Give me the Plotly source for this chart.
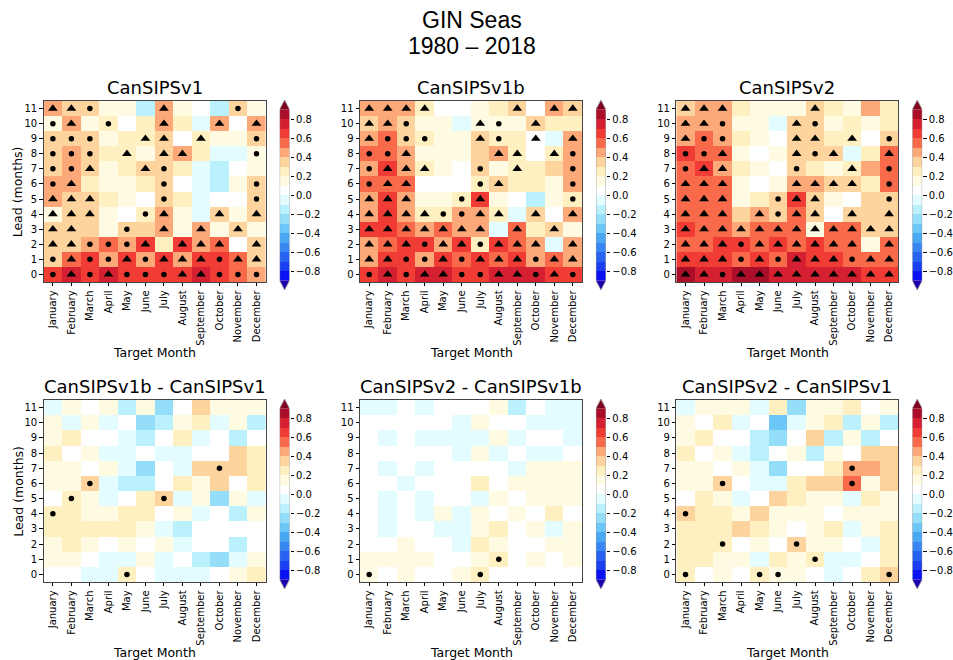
import plotly.graph_objects as go

# ---------------- data ----------------
MONTHS = ["January", "February", "March", "April", "May", "June", "July",
          "August", "September", "October", "November", "December"]
LEADS = list(range(12))
TITLES = ["CanSIPSv1", "CanSIPSv1b", "CanSIPSv2",
          "CanSIPSv1b - CanSIPSv1", "CanSIPSv2 - CanSIPSv1b", "CanSIPSv2 - CanSIPSv1"]
CB_TICKS = [0.8, 0.6, 0.4, 0.2, 0.0, -0.2, -0.4, -0.6, -0.8]
CB_TICKTEXT = ["0.8", "0.6", "0.4", "0.2", "0.0", "\u22120.2", "\u22120.4", "\u22120.6", "\u22120.8"]
LEVEL_MIN, LEVEL_MAX, LEVEL_STEP = -0.9, 0.9, 0.1
# band colours from below -0.9 (extension) to above 0.9 (extension)
BAND_COLORS = ["#1c00b0", "#0a12f2", "#1a3ef0", "#2862f0", "#3886f2", "#48a8f4",
               "#6cc6f7", "#94def9", "#bbf1fc", "#e2fcff",
               "#ffffff", "#fffbe3", "#fff0c2", "#fdd49e", "#fca878", "#f86a4a",
               "#f03c34", "#d42030", "#aa0e28", "#800020"]

# values: rows are lead 0 .. 11, columns January .. December
v1 = [
    [0.65, 0.75, 0.65, 0.75, 0.65, 0.65, 0.65, 0.65, 0.75, 0.65, 0.55, 0.45],
    [0.35, 0.55, 0.65, 0.45, 0.65, 0.45, 0.65, 0.45, 0.65, 0.65, 0.55, 0.35],
    [0.35, 0.35, 0.45, 0.55, 0.45, 0.65, 0.25, 0.65, 0.45, 0.55, 0.05, 0.35],
    [0.35, 0.35, 0.35, 0.15, 0.35, 0.35, 0.45, 0.15, 0.45, 0.15, 0.35, 0.15],
    [0.15, 0.35, 0.35, 0.15, 0.05, 0.25, 0.45, 0.15, -0.05, 0.35, 0.15, 0.35],
    [0.45, 0.35, 0.35, 0.25, 0.15, 0.05, 0.35, 0.25, -0.05, 0.05, 0.05, 0.35],
    [0.45, 0.45, 0.25, 0.15, 0.15, 0.25, 0.35, 0.05, -0.05, -0.15, 0.15, 0.35],
    [0.35, 0.45, 0.35, 0.15, 0.25, 0.35, 0.35, 0.25, -0.05, -0.15, 0.05, 0.15],
    [0.35, 0.45, 0.35, 0.25, 0.25, 0.15, 0.35, 0.45, 0.25, -0.05, -0.05, 0.15],
    [0.35, 0.35, 0.35, 0.15, 0.25, 0.25, 0.35, 0.05, 0.25, 0.15, 0.15, 0.35],
    [0.15, 0.45, 0.15, 0.25, 0.05, 0.25, 0.45, 0.25, -0.05, 0.45, 0.05, 0.45],
    [0.45, 0.35, 0.35, 0.15, 0.15, -0.15, 0.45, 0.15, 0.05, -0.15, 0.35, 0.15],
]
v1b = [
    [0.65, 0.75, 0.65, 0.75, 0.75, 0.65, 0.65, 0.75, 0.75, 0.75, 0.65, 0.65],
    [0.45, 0.65, 0.65, 0.45, 0.65, 0.55, 0.65, 0.55, 0.65, 0.45, 0.55, 0.45],
    [0.45, 0.55, 0.65, 0.65, 0.45, 0.65, 0.25, 0.65, 0.55, 0.45, -0.05, 0.45],
    [0.65, 0.65, 0.55, 0.45, 0.55, 0.45, 0.45, -0.05, 0.55, 0.25, 0.35, 0.15],
    [0.45, 0.65, 0.45, 0.25, 0.25, 0.45, 0.45, 0.25, -0.05, 0.35, 0.05, 0.45],
    [0.45, 0.65, 0.45, 0.15, 0.15, 0.25, 0.65, 0.15, 0.05, -0.15, 0.15, 0.25],
    [0.55, 0.55, 0.55, 0.05, 0.05, 0.05, 0.25, 0.35, 0.25, 0.25, 0.15, 0.45],
    [0.45, 0.65, 0.45, 0.25, 0.15, 0.05, 0.35, 0.15, 0.25, 0.25, 0.35, 0.45],
    [0.55, 0.55, 0.45, 0.15, 0.15, 0.15, 0.35, 0.45, 0.25, 0.05, 0.25, 0.45],
    [0.45, 0.55, 0.35, 0.25, 0.15, 0.15, 0.35, 0.25, 0.25, 0.05, -0.05, 0.45],
    [0.35, 0.45, 0.35, 0.15, 0.15, -0.05, 0.15, 0.15, 0.15, 0.35, 0.25, 0.25],
    [0.45, 0.45, 0.45, 0.25, 0.05, 0.05, 0.15, 0.25, 0.35, 0.05, 0.45, 0.35],
]
v2 = [
    [0.85, 0.75, 0.75, 0.85, 0.85, 0.75, 0.75, 0.75, 0.75, 0.75, 0.65, 0.65],
    [0.65, 0.65, 0.65, 0.55, 0.65, 0.55, 0.75, 0.65, 0.65, 0.55, 0.55, 0.55],
    [0.55, 0.55, 0.65, 0.65, 0.55, 0.65, 0.55, 0.65, 0.55, 0.55, 0.15, 0.55],
    [0.65, 0.55, 0.55, 0.45, 0.55, 0.55, 0.55, 0.15, 0.55, 0.55, 0.35, 0.35],
    [0.55, 0.55, 0.55, 0.35, 0.45, 0.35, 0.55, 0.35, 0.05, 0.35, 0.35, 0.35],
    [0.55, 0.55, 0.55, 0.15, 0.25, 0.35, 0.65, 0.35, 0.15, 0.05, 0.35, 0.35],
    [0.55, 0.55, 0.55, 0.15, 0.05, 0.15, 0.45, 0.45, 0.35, 0.35, 0.25, 0.55],
    [0.55, 0.65, 0.45, 0.25, 0.15, 0.05, 0.35, 0.25, 0.15, 0.25, 0.45, 0.55],
    [0.65, 0.55, 0.55, 0.15, 0.05, 0.15, 0.35, 0.35, 0.35, -0.05, 0.25, 0.55],
    [0.45, 0.55, 0.45, 0.25, 0.15, 0.05, 0.35, 0.35, 0.25, 0.25, 0.05, 0.35],
    [0.45, 0.45, 0.45, 0.15, 0.15, -0.05, 0.35, 0.35, 0.15, 0.25, 0.15, 0.25],
    [0.35, 0.45, 0.45, 0.25, 0.15, 0.15, 0.15, 0.35, 0.25, 0.15, 0.45, 0.25],
]
d_v1b_v1 = [
    [0.05, 0.05, -0.05, -0.05, 0.25, 0.05, -0.05, -0.05, -0.05, 0.05, 0.15, 0.25],
    [0.15, 0.15, 0.05, -0.05, -0.05, 0.15, -0.05, 0.05, -0.15, -0.25, -0.05, 0.15],
    [0.15, 0.25, 0.15, 0.05, 0.15, 0.05, 0.15, -0.05, 0.05, 0.05, -0.15, 0.05],
    [0.25, 0.25, 0.25, 0.25, 0.25, 0.15, -0.05, -0.15, 0.05, 0.05, 0.05, 0.05],
    [0.25, 0.25, 0.15, 0.15, 0.25, 0.25, 0.05, 0.15, -0.05, 0.05, -0.15, 0.15],
    [0.05, 0.25, 0.15, -0.05, 0.05, 0.25, 0.35, -0.05, 0.15, -0.25, 0.15, -0.05],
    [0.15, 0.15, 0.35, -0.05, -0.15, -0.15, 0.05, 0.25, 0.15, 0.35, 0.05, 0.25],
    [0.15, 0.15, 0.05, 0.15, -0.05, -0.25, 0.05, -0.05, 0.35, 0.35, 0.35, 0.25],
    [0.25, 0.05, 0.15, -0.05, -0.05, 0.05, -0.05, -0.05, 0.05, 0.05, 0.35, 0.25],
    [0.15, 0.25, 0.05, 0.05, -0.05, -0.15, 0.05, 0.25, -0.05, 0.05, -0.15, 0.05],
    [0.15, -0.05, 0.15, -0.05, 0.05, -0.25, -0.15, 0.15, 0.25, -0.05, 0.15, -0.15],
    [-0.05, 0.15, 0.05, 0.15, -0.15, 0.15, -0.25, 0.05, 0.35, 0.15, 0.15, 0.15],
]
d_v2_v1b = [
    [0.15, 0.05, 0.15, 0.05, 0.05, 0.15, 0.25, 0.05, 0.05, 0.05, 0.05, 0.05],
    [0.15, 0.15, 0.15, 0.15, 0.05, 0.05, 0.15, 0.25, 0.05, 0.15, 0.05, 0.15],
    [0.05, 0.05, 0.15, 0.05, 0.05, -0.05, 0.25, 0.15, 0.05, 0.05, 0.15, 0.15],
    [0.05, -0.05, 0.05, 0.05, -0.05, -0.05, 0.15, 0.25, 0.05, 0.15, -0.05, 0.15],
    [0.05, -0.05, 0.05, -0.05, 0.15, -0.05, 0.15, 0.05, 0.15, 0.05, 0.25, 0.05],
    [0.05, -0.05, 0.05, -0.05, 0.05, 0.05, -0.05, 0.15, 0.05, 0.15, 0.15, 0.15],
    [0.05, 0.05, -0.05, 0.05, 0.05, 0.05, 0.25, 0.05, 0.15, 0.15, 0.15, 0.15],
    [0.05, -0.05, 0.05, -0.05, 0.05, 0.05, 0.05, 0.05, -0.05, 0.15, 0.15, 0.15],
    [0.05, 0.05, 0.05, 0.05, 0.05, -0.05, 0.15, -0.05, 0.05, -0.05, -0.05, 0.05],
    [0.05, -0.05, 0.05, -0.05, -0.05, -0.05, -0.05, 0.15, -0.05, 0.05, 0.05, -0.05],
    [0.05, 0.05, 0.05, 0.05, 0.05, -0.05, 0.15, 0.05, 0.05, -0.05, -0.05, -0.05],
    [-0.05, -0.05, 0.05, -0.05, 0.05, 0.05, 0.05, 0.15, -0.15, 0.05, -0.05, -0.05],
]
d_v2_v1 = [
    [0.25, 0.05, 0.15, 0.05, 0.25, 0.15, 0.15, 0.05, -0.05, 0.05, 0.25, 0.35],
    [0.25, 0.25, 0.15, 0.15, -0.05, 0.25, 0.15, 0.25, -0.05, -0.05, 0.05, 0.25],
    [0.25, 0.25, 0.25, 0.05, 0.15, 0.05, 0.35, 0.15, 0.15, 0.05, -0.05, 0.25],
    [0.25, 0.25, 0.25, 0.35, 0.25, 0.15, 0.05, 0.15, 0.25, -0.05, 0.15, 0.25],
    [0.35, 0.25, 0.25, 0.15, 0.35, 0.15, 0.15, 0.15, 0.05, 0.15, 0.15, 0.15],
    [0.05, 0.25, 0.15, -0.05, 0.05, 0.35, 0.25, 0.15, 0.15, -0.05, 0.25, 0.15],
    [0.15, 0.15, 0.35, 0.05, -0.05, -0.05, 0.25, 0.35, 0.35, 0.55, 0.15, 0.35],
    [0.15, 0.15, 0.05, 0.15, -0.05, -0.25, 0.05, 0.05, 0.25, 0.45, 0.45, 0.35],
    [0.25, 0.05, 0.15, -0.05, -0.15, 0.05, 0.15, -0.15, 0.15, 0.05, 0.35, 0.35],
    [0.15, 0.25, 0.05, 0.05, -0.15, -0.25, 0.05, 0.35, -0.15, 0.15, -0.15, 0.05],
    [0.15, 0.05, 0.25, -0.05, 0.05, -0.35, -0.05, 0.15, 0.25, -0.15, 0.15, -0.15],
    [-0.05, 0.15, 0.15, 0.15, -0.05, 0.25, -0.25, 0.15, 0.15, 0.25, 0.05, 0.15],
]

# significance markers: 'T' = triangle, 'o' = dot, '.' = none (lead 0 .. 11)
m_v1 = ["oToToooTTooo", "oTooToTTToTT", "TToooT.TTT.T", "TT..o.T.T.T.",
        "TTT..oT..T.T", "TTT...o....o", "oT....o....o", "ooT..To.....",
        "ooo.T.TT...o", "ooo..TT.T..o", "oT.o..T..T.T", "TTo...T...o."]
m_v1b = ["oToTTooTToTo", "TTooToTTToTT", "TTToTToTTT.T", "TTTTTTT.T.T.",
         "TTTTooTT.T.T", "TTT..oT....o", "oTT...oT...o", "oTTT..o.T..o",
         "ooT....TT.To", "Tooo..To.T.T", "TTo...To.T..", "TTTT....T.TT"]
m_v2 = ["TToTTTTTTTTT", "TTToToTTToTT", "TTToTTTTTT.T", "TTTTTTTTTTTT",
        "TTT.ToTT.T.T", "TTT..oTT...o", "TTT...TTTT.o", "oTT...o..T.o",
        "ooT...ToT..T", "Too...TT.T.o", "TTo...To....", "TTT....T...."]
m_d1 = ["....o.......", "............", "............", "............",
        "o...........", ".o....o.....", "..o.........", ".........o..",
        "............", "............", "............", "............"]
m_d2 = ["o.....o.....", ".......o....", "............", "............",
        "............", "............", "............", "............",
        "............", "............", "............", "............"]
m_d3 = ["o...oo.....o", ".......o....", "..o...o.....", "............",
        "o...........", "............", "..o......o..", ".........o..",
        "............", "............", "............", "............"]

PANEL_VALUES = [v1, v1b, v2, d_v1b_v1, d_v2_v1b, d_v2_v1]
PANEL_MARKS = [m_v1, m_v1b, m_v2, m_d1, m_d2, m_d3]

# ---------------- layout geometry (pixels) ----------------
W, H = 953, 660
COL_X0 = [44, 363, 682]
PLOT_W = 224
ROW_Y = [(101, 282), (400, 582)]
CB_DX, CB_W = 238, 10
CB_Y = [(100, 290), (399, 589)]
FONT = "DejaVu Sans"
TICK_SIZE = 10
LABEL_SIZE = 12.5
TITLE_SIZE = 18


def px_x(p):
    return p / W


def px_y(p):
    return 1 - p / H


# discrete colorscale spanning -1 .. 1 in 0.1 bands
ZMIN, ZMAX = LEVEL_MIN - LEVEL_STEP, LEVEL_MAX + LEVEL_STEP
nb = len(BAND_COLORS)
colorscale = []
for i, c in enumerate(BAND_COLORS):
    colorscale.append([i / nb, c])
    colorscale.append([(i + 1) / nb, c])

fig = go.Figure()
shapes = []
annotations = []
layout_axes = {}

n_levels = int(round((LEVEL_MAX - LEVEL_MIN) / LEVEL_STEP))
cb_centers = [round(LEVEL_MIN + LEVEL_STEP * (k + 0.5), 3) for k in range(n_levels)]

for p in range(6):
    r, c = divmod(p, 3)
    ax = p + 1
    cbax = p + 7
    x0 = COL_X0[c]
    y0, y1 = ROW_Y[r]
    xs = "x" if ax == 1 else f"x{ax}"
    ys = "y" if ax == 1 else f"y{ax}"

    fig.add_trace(go.Heatmap(
        z=PANEL_VALUES[p], x=list(range(12)), y=LEADS,
        colorscale=colorscale, zmin=ZMIN, zmax=ZMAX, showscale=False,
        xaxis=xs, yaxis=ys, hoverinfo="skip"))

    tx, ty, ox, oy = [], [], [], []
    for lead, row in enumerate(PANEL_MARKS[p]):
        for m, ch in enumerate(row):
            if ch == "T":
                tx.append(m); ty.append(lead)
            elif ch == "o":
                ox.append(m); oy.append(lead)
    fig.add_trace(go.Scatter(x=tx, y=ty, mode="markers", xaxis=xs, yaxis=ys,
                             marker=dict(symbol="triangle-up", size=8.5, color="black",
                                         line=dict(width=0)),
                             hoverinfo="skip"))
    fig.add_trace(go.Scatter(x=ox, y=oy, mode="markers", xaxis=xs, yaxis=ys,
                             marker=dict(symbol="circle", size=5.5, color="black",
                                         line=dict(width=0)),
                             hoverinfo="skip"))

    xkey = "xaxis" if ax == 1 else f"xaxis{ax}"
    ykey = "yaxis" if ax == 1 else f"yaxis{ax}"
    layout_axes[xkey] = dict(
        domain=[px_x(x0), px_x(x0 + PLOT_W)], anchor=ys, range=[-0.5, 11.5],
        tickmode="array", tickvals=list(range(12)), ticktext=MONTHS, tickangle=-90,
        ticks="outside", ticklen=3.5, tickwidth=0.8, tickcolor="black",
        showline=True, mirror=True, linecolor="#444", linewidth=0.8,
        showgrid=False, zeroline=False,
        tickfont=dict(family=FONT, size=TICK_SIZE, color="black"))
    layout_axes[ykey] = dict(
        domain=[px_y(y1), px_y(y0)], anchor=xs, range=[-0.5, 11.5],
        tickmode="array", tickvals=LEADS, ticktext=[str(v) for v in LEADS],
        ticks="outside", ticklen=3.5, tickwidth=0.8, tickcolor="black",
        showline=True, mirror=True, linecolor="#444", linewidth=0.8,
        showgrid=False, zeroline=False,
        tickfont=dict(family=FONT, size=TICK_SIZE, color="black"))

    # colorbar as its own small axis pair
    cxs, cys = f"x{cbax}", f"y{cbax}"
    cb_x0 = x0 + CB_DX
    cy0, cy1 = CB_Y[r]
    fig.add_trace(go.Heatmap(
        z=[[v] for v in cb_centers], x=[0], y=cb_centers,
        colorscale=colorscale, zmin=ZMIN, zmax=ZMAX, showscale=False,
        xaxis=cxs, yaxis=cys, hoverinfo="skip"))
    layout_axes[f"xaxis{cbax}"] = dict(
        domain=[px_x(cb_x0), px_x(cb_x0 + CB_W)], anchor=cys, range=[-0.5, 0.5],
        visible=False, showgrid=False, zeroline=False)
    layout_axes[f"yaxis{cbax}"] = dict(
        domain=[px_y(cy1), px_y(cy0)], anchor=cxs, side="right",
        range=[ZMIN, ZMAX], tickmode="array", tickvals=CB_TICKS, ticktext=CB_TICKTEXT,
        ticks="outside", ticklen=3.5, tickwidth=0.8, tickcolor="black",
        showline=False, showgrid=False, zeroline=False,
        tickfont=dict(family=FONT, size=TICK_SIZE, color="black"))
    top, bot = LEVEL_MAX, LEVEL_MIN
    shapes.append(dict(type="path", xref=cxs, yref=cys, layer="above",
                       path=f"M -0.5,{top} L 0.5,{top} L 0,{ZMAX} Z",
                       fillcolor=BAND_COLORS[-1], line=dict(width=0)))
    shapes.append(dict(type="path", xref=cxs, yref=cys, layer="above",
                       path=f"M -0.5,{bot} L 0.5,{bot} L 0,{ZMIN} Z",
                       fillcolor=BAND_COLORS[0], line=dict(width=0)))
    shapes.append(dict(type="path", xref=cxs, yref=cys, layer="above",
                       path=(f"M -0.5,{bot} L -0.5,{top} L 0,{ZMAX} L 0.5,{top} "
                             f"L 0.5,{bot} L 0,{ZMIN} Z"),
                       fillcolor="rgba(0,0,0,0)", line=dict(color="#999", width=0.8)))

    # titles
    cx = x0 + PLOT_W / 2
    annotations.append(dict(text=TITLES[p], x=px_x(cx), y=px_y(y0 - 13),
                            xref="paper", yref="paper", showarrow=False,
                            xanchor="center", yanchor="middle",
                            font=dict(family=FONT, size=TITLE_SIZE, color="black")))
    annotations.append(dict(text="Target Month", x=px_x(cx), y=px_y(y1 + 70),
                            xref="paper", yref="paper", showarrow=False,
                            xanchor="center", yanchor="middle",
                            font=dict(family=FONT, size=LABEL_SIZE, color="black")))
    if c == 0:
        annotations.append(dict(text="Lead (months)", x=px_x(18), y=px_y((y0 + y1) / 2),
                                xref="paper", yref="paper", showarrow=False,
                                textangle=-90, xanchor="center", yanchor="middle",
                                font=dict(family=FONT, size=LABEL_SIZE, color="black")))

annotations.append(dict(text="GIN Seas", x=px_x(476), y=px_y(20), xref="paper",
                        yref="paper", showarrow=False, xanchor="center", yanchor="middle",
                        font=dict(family="Liberation Sans", size=23, color="black")))
annotations.append(dict(text="1980 \u2013 2018", x=px_x(476), y=px_y(46), xref="paper",
                        yref="paper", showarrow=False, xanchor="center", yanchor="middle",
                        font=dict(family="Liberation Sans", size=23, color="black")))

fig.update_layout(
    width=W, height=H, margin=dict(l=0, r=0, t=0, b=0),
    paper_bgcolor="white", plot_bgcolor="white", showlegend=False,
    shapes=shapes, annotations=annotations, **layout_axes)

fig.write_html("out.html")
